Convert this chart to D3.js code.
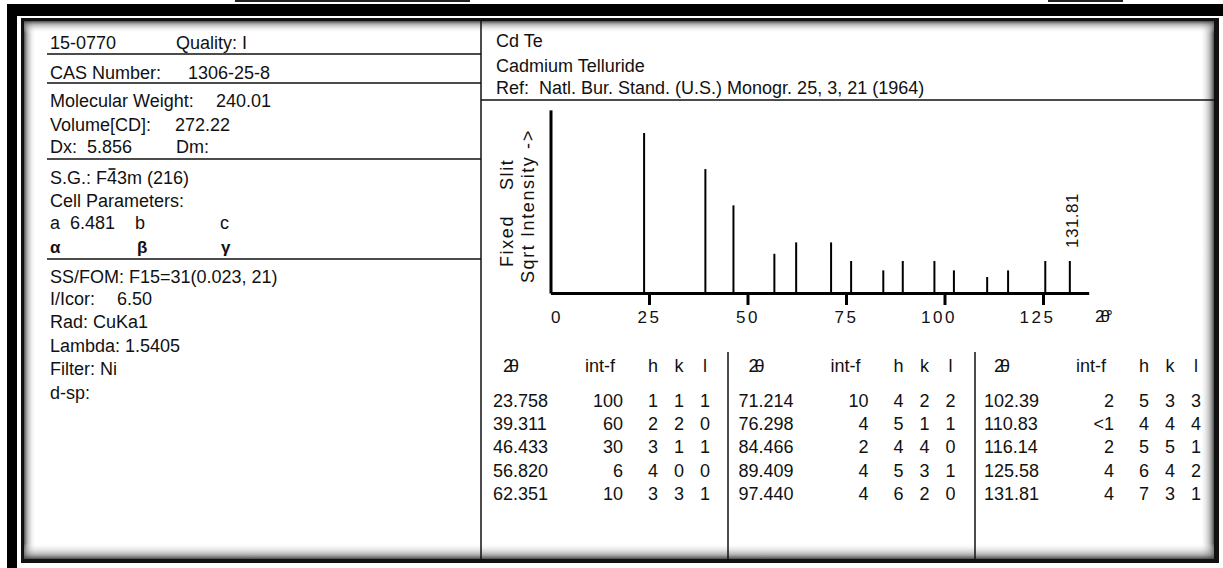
<!DOCTYPE html>
<html><head><meta charset="utf-8">
<script src="https://cdn.jsdelivr.net/npm/d3@7"></script>
<style>
html,body{margin:0;padding:0;background:#fff;}
svg text{font-family:"Liberation Sans",Arial,sans-serif;fill:#111;white-space:pre;}
</style></head>
<body><svg id="c" width="1223" height="568"></svg>
<script>
// ---------- data ----------
const twoTheta = [23.758, 39.311, 46.433, 56.820, 62.351, 71.214, 76.298, 84.466, 89.409, 97.440, 102.39, 110.83, 116.14, 125.58, 131.81];
const intF     = [100, 60, 30, 6, 10, 10, 4, 2, 4, 4, 2, 1, 2, 4, 4];
const intFText = ["100","60","30","6","10","10","4","2","4","4","2","<1","2","4","4"];
const hkl = [[1,1,1],[2,2,0],[3,1,1],[4,0,0],[3,3,1],[4,2,2],[5,1,1],[4,4,0],[5,3,1],[6,2,0],[5,3,3],[4,4,4],[5,5,1],[6,4,2],[7,3,1]];
const xTicks = [0, 25, 50, 75, 100, 125];
const labelledPeak = 131.81;
const cardLeft = [
  ["15-0770", "Quality: I"],
  ["CAS Number:", "1306-25-8"],
  ["Molecular Weight:", "240.01"],
  ["Volume[CD]:", "272.22"],
  ["Dx:  5.856", "Dm:"],
  ["S.G.: F43m (216)"],
  ["Cell Parameters:"],
  ["a  6.481", "b", "c"],
  ["\u03b1", "\u03b2", "\u03b3"],
  ["SS/FOM: F15=31(0.023, 21)"],
  ["I/Icor:", "6.50"],
  ["Rad: CuKa1"],
  ["Lambda: 1.5405"],
  ["Filter: Ni"],
  ["d-sp:"]
];
const cardRight = ["Cd Te", "Cadmium Telluride", "Ref:  Natl. Bur. Stand. (U.S.) Monogr. 25, 3, 21 (1964)"];

// ---------- frame ----------
const svg = d3.select("#c");
const defs = svg.append("defs");
function grad(id, x1, y1, x2, y2){
  const g = defs.append("linearGradient").attr("id", id).attr("x1",x1).attr("y1",y1).attr("x2",x2).attr("y2",y2);
  g.append("stop").attr("offset","0").attr("stop-color","#444").attr("stop-opacity",0.95);
  g.append("stop").attr("offset","0.3").attr("stop-color","#888").attr("stop-opacity",0.6);
  g.append("stop").attr("offset","1").attr("stop-color","#fff").attr("stop-opacity",0);
}
grad("gL",0,0,1,0); grad("gR",1,0,0,0); grad("gT",0,0,0,1); grad("gB",0,1,0,0);

svg.append("rect").attr("x",0).attr("y",0).attr("width",1223).attr("height",568).attr("fill","#fff");
// cropped caption remnants at top
svg.append("rect").attr("x",235).attr("y",0).attr("width",235).attr("height",2).attr("fill","#222");
svg.append("rect").attr("x",1048).attr("y",0).attr("width",75).attr("height",2).attr("fill","#222");
// outer black band
svg.append("rect").attr("x",7).attr("y",4).attr("width",1216).attr("height",12).attr("fill","#000");
svg.append("rect").attr("x",7).attr("y",4).attr("width",10).attr("height",564).attr("fill","#000");
// inner card
const L = 21, T = 18, R = 1219, B = 563;
svg.append("rect").attr("x",L).attr("y",T).attr("width",R-L).attr("height",B-T).attr("fill","#111");
svg.append("rect").attr("x",L+3).attr("y",T+3).attr("width",R-L-8).attr("height",B-T-7).attr("fill","#fff");
const iL=L+3, iT=T+3, iR=R-5, iB=B-4;
svg.append("rect").attr("x",iL).attr("y",iT).attr("width",12).attr("height",iB-iT).attr("fill","url(#gL)");
svg.append("rect").attr("x",iR-14).attr("y",iT).attr("width",14).attr("height",iB-iT).attr("fill","url(#gR)");
svg.append("rect").attr("x",iL).attr("y",iT).attr("width",iR-iL).attr("height",12).attr("fill","url(#gT)");
svg.append("rect").attr("x",iL).attr("y",iB-16).attr("width",iR-iL).attr("height",16).attr("fill","url(#gB)");

const lineC = "#111";
function hline(x1,x2,y,w){ svg.append("line").attr("x1",x1).attr("x2",x2).attr("y1",y).attr("y2",y).attr("stroke",lineC).attr("stroke-width",w||1.5); }
function vline(x,y1,y2,w){ svg.append("line").attr("x1",x).attr("x2",x).attr("y1",y1).attr("y2",y2).attr("stroke",lineC).attr("stroke-width",w||1.5); }

vline(481, iT, iB);
[54, 83, 159, 259].forEach(y => hline(47, 481, y));
hline(481, iR, 100);

// ---------- left panel text ----------
const lp = svg.append("g").attr("font-size", 18);
const leftRows = [
  {y:49,  xs:[50,176]},
  {y:79,  xs:[50,188]},
  {y:107, xs:[50,216]},
  {y:131, xs:[50,175]},
  {y:153, xs:[50,176]},
  {y:184, xs:[50]},
  {y:207, xs:[50]},
  {y:229, xs:[50,135,220]},
  {y:253, xs:[50,137,221], small:true},
  {y:283, xs:[50]},
  {y:305, xs:[50,117]},
  {y:328, xs:[50]},
  {y:352, xs:[50]},
  {y:375, xs:[50]},
  {y:399, xs:[50]}
];
cardLeft.forEach((row, i) => {
  row.forEach((t, j) => {
    const el = lp.append("text").attr("x", leftRows[i].xs[j]).attr("y", leftRows[i].y)
      .attr("font-size", leftRows[i].small ? 17 : 18)
      .attr("font-weight", leftRows[i].small ? "bold" : null).text(t);
    if (i === 5) {
      // overbar on the "4" of F-43m
      const node = el.node();
      const x0 = node.getStartPositionOfChar(7).x, x1 = node.getEndPositionOfChar(7).x;
      lp.append("line").attr("x1", x0 + 1.5).attr("x2", x1 - 1.5)
        .attr("y1", leftRows[i].y - 15).attr("y2", leftRows[i].y - 15)
        .attr("stroke", "#111").attr("stroke-width", 1.6);
    }
  });
});
// right header text
[47, 72, 94].forEach((y, i) => {
  svg.append("text").attr("x", 496).attr("y", y).attr("font-size", 18).text(cardRight[i]);
});

// ---------- stick pattern ----------
const x = d3.scaleLinear().domain([0, 136.6]).range([550.5, 1088.7]);
const y = d3.scaleSqrt().domain([0, 131]).range([293, 293 - 160 * Math.sqrt(1.31)]);

const gx = svg.append("g").attr("transform", `translate(0,${y(0)})`)
  .call(d3.axisBottom(x).tickValues(xTicks).tickSize(12).tickSizeOuter(0).tickPadding(6));
gx.select(".domain").attr("stroke", "#000").attr("stroke-width", 3);
gx.selectAll(".tick line").attr("stroke", "#000").attr("stroke-width", 3)
  .attr("opacity", d => d === 0 ? 0 : 1);
gx.selectAll(".tick text").attr("font-size", 17).attr("fill", "#111")
  .attr("letter-spacing", 2.5).attr("text-anchor", "end").attr("x", 12)
  .attr("font-family", '"Liberation Sans",Arial,sans-serif');

const gy = svg.append("g").attr("transform", `translate(${x(0)},0)`)
  .call(d3.axisLeft(y).tickValues([]).tickSizeOuter(0));
gy.select(".domain").attr("stroke", "#000").attr("stroke-width", 3);

svg.append("g").selectAll("line").data(twoTheta).join("line")
  .attr("x1", d => x(d)).attr("x2", d => x(d))
  .attr("y1", y(0)).attr("y2", (d, i) => y(intF[i]))
  .attr("stroke", "#000").attr("stroke-width", 2);

svg.append("text")
  .attr("transform", `translate(${x(labelledPeak) + 8},${y(intF[14]) - 13}) rotate(-90)`)
  .attr("font-size", 17).attr("letter-spacing", 0.5).text(labelledPeak.toFixed(2));

svg.append("text").attr("x", 1095).attr("y", 322).attr("font-size", 17)
  .attr("letter-spacing", -4).text("2\u03b8\u00b0");

// y label
svg.append("text").attr("transform", "translate(513,267) rotate(-90)").attr("font-size", 18)
  .attr("letter-spacing", 1.6).text("Fixed");
svg.append("text").attr("transform", "translate(513,190) rotate(-90)").attr("font-size", 18)
  .attr("letter-spacing", 1.6).text("Slit");
svg.append("text").attr("transform", "translate(534,283) rotate(-90)").attr("font-size", 18)
  .attr("letter-spacing", 1.6).text("Sqrt Intensity ->");

// ---------- table ----------
const groupX = [493, 738.5, 984];
vline(728, 352, iB);
vline(975, 352, iB);
const tb = svg.append("g").attr("font-size", 18);
groupX.forEach((gx0, g) => {
  tb.append("text").attr("x", gx0 + 10).attr("y", 372).attr("letter-spacing", -4).text("2\u03b8");
  tb.append("text").attr("x", gx0 + 92).attr("y", 372).text("int-f");
  ["h","k","l"].forEach((t, j) => tb.append("text").attr("x", gx0 + 160 + 26 * j).attr("y", 372)
    .attr("text-anchor", "middle").text(t));
  for (let r = 0; r < 5; r++) {
    const i = g * 5 + r;
    const yy = 407 + 23.2 * r;
    tb.append("text").attr("x", gx0).attr("y", yy).text(twoTheta[i] >= 100 ? twoTheta[i].toFixed(2) : twoTheta[i].toFixed(3));
    tb.append("text").attr("x", gx0 + 130).attr("y", yy).attr("text-anchor", "end").text(intFText[i]);
    hkl[i].forEach((v, j) => tb.append("text").attr("x", gx0 + 160 + 26 * j).attr("y", yy)
      .attr("text-anchor", "middle").text(v));
  }
});
</script></body></html>
